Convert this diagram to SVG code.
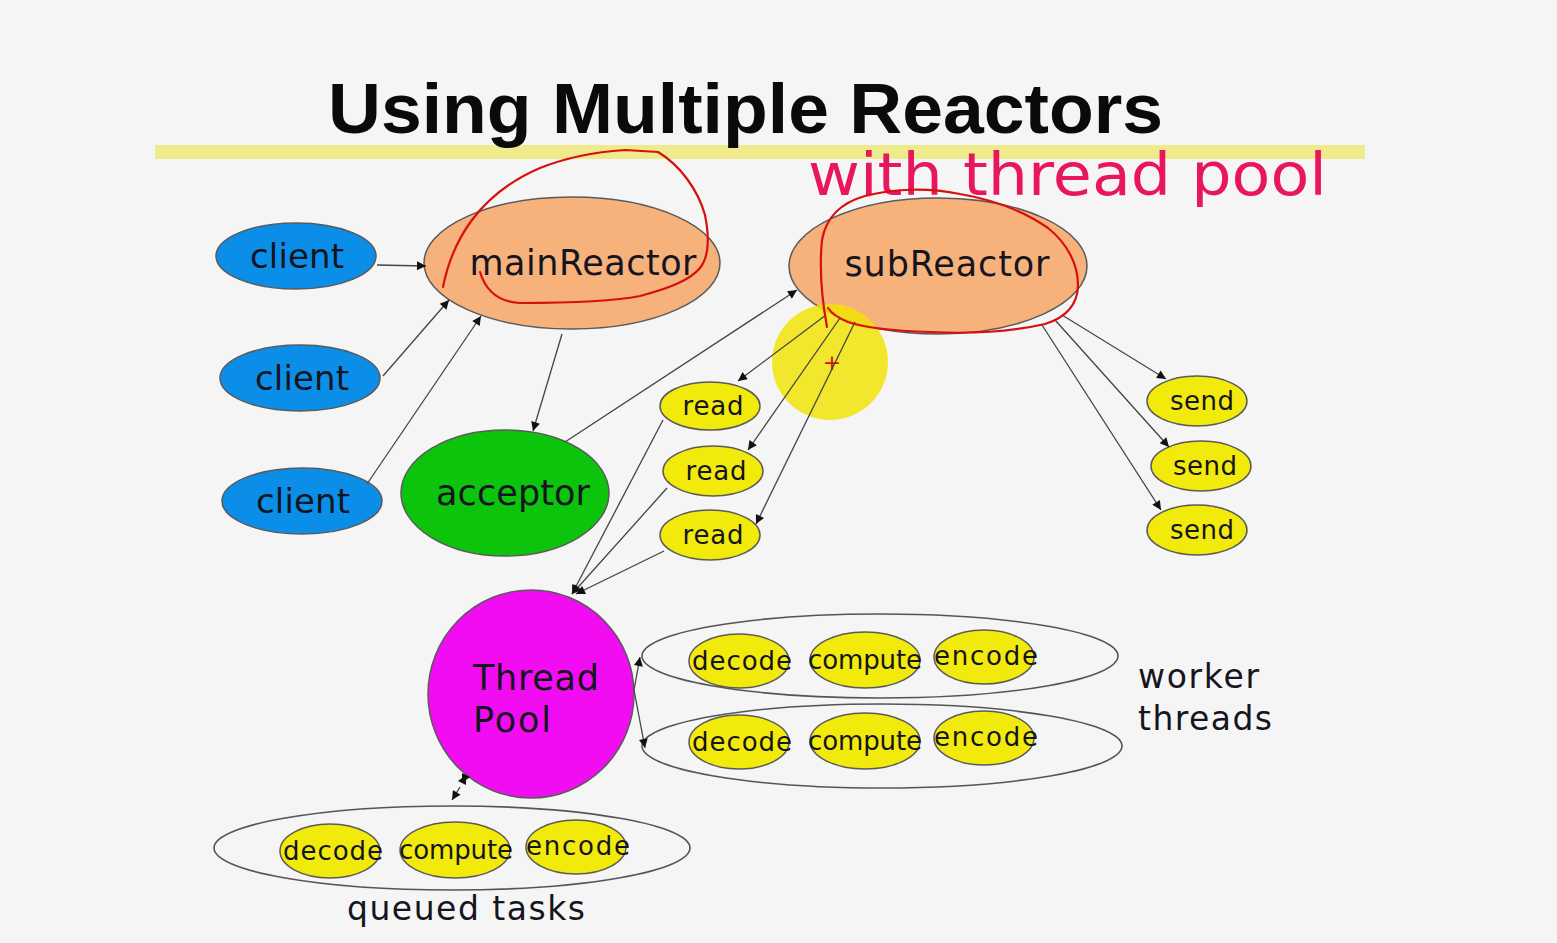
<svg xmlns="http://www.w3.org/2000/svg" width="1557" height="943" viewBox="0 0 1557 943">
<style>
.nd{stroke:#5a5a5a;stroke-width:1.5}
.cl{fill:#0a8ee8}
.rc{fill:#f7b27c}
.ye{fill:#f2ea0a}
.grp{fill:none;stroke:#555;stroke-width:1.6}
.t{font-family:"DejaVu Sans",sans-serif;fill:#151520}
.e{stroke:#444;stroke-width:1.3;fill:none;marker-end:url(#ah)}
.red{fill:none;stroke:#d80f0f;stroke-width:2.2;stroke-linejoin:round;stroke-linecap:round}
</style>
<defs>
<marker id="ah" viewBox="0 0 10 10" refX="10" refY="5" markerWidth="11" markerHeight="9" markerUnits="userSpaceOnUse" orient="auto"><path d="M0,0 L10,5 L0,10 z" fill="#111"/></marker>
<marker id="ahs" viewBox="0 0 10 10" refX="0" refY="5" markerWidth="11" markerHeight="9" markerUnits="userSpaceOnUse" orient="auto"><path d="M10,0 L0,5 L10,10 z" fill="#111"/></marker>
</defs>
<rect width="1557" height="943" fill="#f5f5f5"/>
<g id="title">
<rect x="155" y="145" width="1210" height="14" fill="#efeb8c"/>
<text x="328" y="133" font-family="'Liberation Sans',sans-serif" font-weight="bold" font-size="70" textLength="835" lengthAdjust="spacingAndGlyphs" fill="#0a0a0a">Using Multiple Reactors</text>
<text x="808" y="195" font-family="'DejaVu Sans',sans-serif" font-size="58" textLength="519" lengthAdjust="spacingAndGlyphs" fill="#e8165c">with thread pool</text>
</g>
<g id="client1"><ellipse class="nd cl" cx="296" cy="256" rx="80" ry="33"/><text class="t" x="297" y="268" font-size="34" text-anchor="middle" textLength="94">client</text></g>
<g id="client2"><ellipse class="nd cl" cx="300" cy="378" rx="80" ry="33"/><text class="t" x="302" y="390" font-size="34" text-anchor="middle" textLength="94">client</text></g>
<g id="client3"><ellipse class="nd cl" cx="302" cy="501" rx="80" ry="33"/><text class="t" x="303" y="513" font-size="34" text-anchor="middle" textLength="94">client</text></g>
<g id="mainReactor"><ellipse class="nd rc" cx="572" cy="263" rx="148" ry="66"/><text class="t" x="583" y="275" font-size="35" text-anchor="middle" textLength="227">mainReactor</text></g>
<g id="subReactor"><ellipse class="nd rc" cx="938" cy="266" rx="149" ry="68"/><text class="t" x="947" y="276" font-size="35" text-anchor="middle" textLength="205">subReactor</text></g>
<g id="highlight"><circle cx="830" cy="362" r="58" fill="#f2e400" opacity="0.82"/><text x="832" y="370" font-family="'DejaVu Sans',sans-serif" font-size="22" fill="#d81010" text-anchor="middle">+</text></g>
<g id="acceptor"><ellipse class="nd" fill="#0cc40c" cx="505" cy="493" rx="104" ry="63"/><text class="t" x="513" y="505" font-size="35" text-anchor="middle" textLength="154">acceptor</text></g>
<g id="read1"><ellipse class="nd ye" cx="710" cy="406" rx="50" ry="24"/><text class="t" x="713" y="415" font-size="26" text-anchor="middle" textLength="61">read</text></g>
<g id="read2"><ellipse class="nd ye" cx="713" cy="471" rx="50" ry="25"/><text class="t" x="716" y="480" font-size="26" text-anchor="middle" textLength="61">read</text></g>
<g id="read3"><ellipse class="nd ye" cx="710" cy="535" rx="50" ry="25"/><text class="t" x="713" y="544" font-size="26" text-anchor="middle" textLength="61">read</text></g>
<g id="send1"><ellipse class="nd ye" cx="1197" cy="401" rx="50" ry="25"/><text class="t" x="1202" y="410" font-size="26" text-anchor="middle" textLength="64">send</text></g>
<g id="send2"><ellipse class="nd ye" cx="1201" cy="466" rx="50" ry="25"/><text class="t" x="1205" y="475" font-size="26" text-anchor="middle" textLength="64">send</text></g>
<g id="send3"><ellipse class="nd ye" cx="1197" cy="530" rx="50" ry="25"/><text class="t" x="1202" y="539" font-size="26" text-anchor="middle" textLength="64">send</text></g>
<g id="threadPool"><ellipse class="nd" fill="#f20cf2" cx="531" cy="694" rx="103" ry="104"/><text class="t" x="473" y="690" font-size="35" fill="#3a0a3a" textLength="126">Thread</text><text class="t" x="473" y="732" font-size="35" fill="#3a0a3a" textLength="78">Pool</text></g>
<g id="worker1">
<ellipse class="grp" cx="880" cy="656" rx="238" ry="42"/>
<ellipse class="nd ye" cx="739" cy="661" rx="50" ry="27"/><ellipse class="nd ye" cx="865" cy="660" rx="55" ry="28"/><ellipse class="nd ye" cx="984" cy="657" rx="50" ry="27"/>
<text class="t" x="692" y="670" font-size="26" textLength="100">decode</text><text class="t" x="808" y="669" font-size="26" textLength="114">compute</text><text class="t" x="934" y="665" font-size="26" textLength="104">encode</text>
</g>
<g id="worker2">
<ellipse class="grp" cx="882" cy="746" rx="240" ry="42"/>
<ellipse class="nd ye" cx="739" cy="742" rx="50" ry="27"/><ellipse class="nd ye" cx="865" cy="741" rx="55" ry="28"/><ellipse class="nd ye" cx="984" cy="738" rx="50" ry="27"/>
<text class="t" x="692" y="751" font-size="26" textLength="100">decode</text><text class="t" x="808" y="750" font-size="26" textLength="114">compute</text><text class="t" x="934" y="746" font-size="26" textLength="104">encode</text>
</g>
<g id="workerLabel"><text class="t" x="1138" y="688" font-size="33" textLength="121">worker</text><text class="t" x="1138" y="730" font-size="33" textLength="134">threads</text></g>
<g id="queued">
<ellipse class="grp" cx="452" cy="848" rx="238" ry="42"/>
<ellipse class="nd ye" cx="330" cy="851" rx="50" ry="27"/><ellipse class="nd ye" cx="455" cy="850" rx="55" ry="28"/><ellipse class="nd ye" cx="576" cy="847" rx="50" ry="27"/>
<text class="t" x="283" y="860" font-size="26" textLength="100">decode</text><text class="t" x="399" y="859" font-size="26" textLength="114">compute</text><text class="t" x="526" y="855" font-size="26" textLength="104">encode</text>
<text class="t" x="347" y="920" font-size="33" textLength="238">queued tasks</text>
</g>
<g id="connectors">
<line class="e" x1="377" y1="265" x2="426" y2="266"/>
<line class="e" x1="383" y1="376" x2="449" y2="300"/>
<line class="e" x1="367" y1="484" x2="481" y2="316"/>
<line class="e" x1="562" y1="334" x2="533" y2="431"/>
<line class="e" x1="565" y1="442" x2="797" y2="290"/>
<line class="e" x1="826" y1="315" x2="738" y2="381"/>
<line class="e" x1="840" y1="318" x2="748" y2="450"/>
<line class="e" x1="855" y1="322" x2="756" y2="524"/>
<line class="e" x1="1062" y1="315" x2="1166" y2="379"/>
<line class="e" x1="1055" y1="320" x2="1169" y2="447"/>
<line class="e" x1="1042" y1="325" x2="1161" y2="510"/>
<line class="e" x1="663" y1="420" x2="572" y2="594"/>
<line class="e" x1="667" y1="488" x2="572" y2="594"/>
<line class="e" x1="664" y1="551" x2="576" y2="594"/>
<line class="e" x1="634" y1="690" x2="640" y2="657"/>
<line class="e" x1="634" y1="690" x2="645" y2="748"/>
<line class="e" x1="462" y1="783" x2="466" y2="775" style="marker-start:url(#ahs)"/>
<line class="e" x1="460" y1="787" x2="452" y2="800"/>
</g>
<g id="annotations">
<path class="red" d="M443,287 C448,262 457,240 472,220 C490,196 512,180 540,168 C565,158 595,152 625,150 L658,152 C680,165 698,190 705,215 C710,240 708,258 700,268 C690,280 670,288 640,296 C610,302 570,303 520,303 C500,302 486,292 480,272"/>
<path class="red" d="M827,327 C822,300 819,270 822,240 C826,218 840,203 865,196 C895,188 930,188 960,194 C995,200 1025,212 1048,228 C1068,244 1078,265 1078,285 C1078,305 1065,318 1045,324 C1010,332 970,334 930,332 C895,331 865,328 848,322 C838,318 832,314 828,308"/>
</g>
</svg>
